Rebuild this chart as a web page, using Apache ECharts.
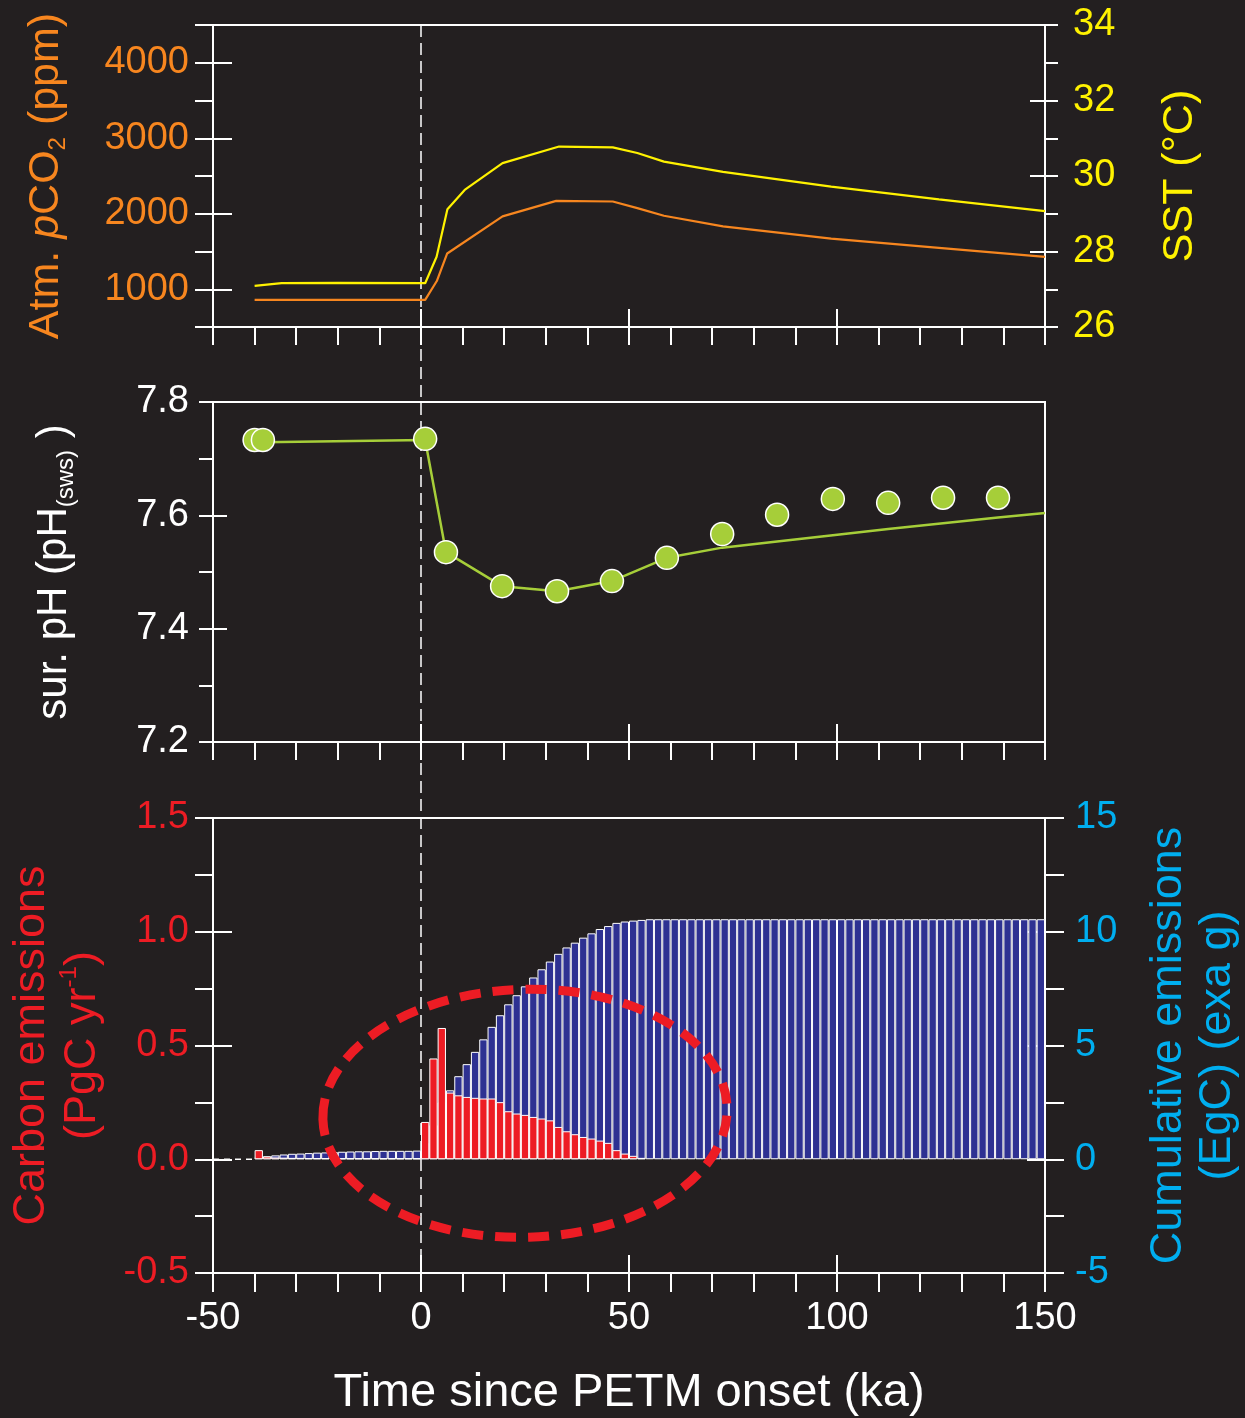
<!DOCTYPE html>
<html>
<head>
<meta charset="utf-8">
<script src="https://cdn.jsdelivr.net/npm/echarts@6/dist/echarts.min.js"></script>
<style>
html, body { margin: 0; padding: 0; background: #231f20; }
#main { width: 1245px; height: 1418px; }
</style>
</head>
<body>
<div id="main"></div>
<script>
// ---- data ----
// top panel: model curves, [time (ka), value]
var co2Curve = [[-40, 859], [1, 859], [3.8, 1109], [6.3, 1474], [19.6, 1965], [32.5, 2171], [46.1, 2162],
    [52, 2075], [58.4, 1974], [72.6, 1833], [98.6, 1671], [124.5, 1549], [150, 1430]];
var sstCurve = [[-40, 27.09], [-33.5, 27.16], [-20, 27.17], [1, 27.16], [3.75, 27.86], [6.35, 29.12],
    [10.5, 29.63], [19.6, 30.34], [33.2, 30.78], [46.1, 30.76], [52, 30.61], [58.4, 30.38], [72.6, 30.11],
    [98.6, 29.72], [124.5, 29.38], [150, 29.07]];

// middle panel: surface pH
var phTime = [-40, -38, 1, 6, 19.5, 32.7, 45.9, 59.1, 72.4, 85.6, 99, 112.3, 125.5, 138.7];
var phDots = [7.733, 7.733, 7.735, 7.535, 7.475, 7.466, 7.484, 7.525, 7.567, 7.601, 7.629, 7.622, 7.631, 7.631];
var phModel = [[-38, 7.729], [1, 7.733], [6, 7.535], [19.5, 7.475], [32.7, 7.466], [45.9, 7.484], [59.1, 7.525],
    [72.4, 7.543], [85.6, 7.554], [99, 7.565], [112.3, 7.576], [125.5, 7.586], [138.7, 7.596], [150, 7.604]];

// bottom panel: 2 ka bins, first bin starts at -40 ka
var firstBin = -40;
var emisRate = [0.040, 0.012, 0.008, 0.007, 0.006, 0.006, 0.005, 0.005, 0.005, 0.005,
    0.004, 0.004, 0.004, 0.004, 0.004, 0.004, 0.004, 0.004, 0.004, 0.004,
    0.164, 0.443, 0.577, 0.293, 0.281, 0.274, 0.270, 0.267, 0.267, 0.251,
    0.211, 0.201, 0.195, 0.186, 0.179, 0.171, 0.142, 0.123, 0.110, 0.098,
    0.091, 0.082, 0.072, 0.040, 0.025, 0.015, 0.006];
var cumEmis = [0.09, 0.13, 0.17, 0.21, 0.24, 0.25, 0.27, 0.29, 0.30, 0.32,
    0.33, 0.34, 0.35, 0.35, 0.36, 0.37, 0.37, 0.37, 0.37, 0.38,
    0.70, 1.50, 2.50, 3.03, 3.65, 4.18, 4.72, 5.27, 5.82, 6.33,
    6.81, 7.21, 7.60, 7.99, 8.35, 8.69, 9.03, 9.31, 9.52, 9.74,
    9.93, 10.12, 10.25, 10.39, 10.45, 10.49, 10.52, 10.55, 10.55, 10.55,
    10.55, 10.55, 10.55, 10.55, 10.55, 10.55, 10.55, 10.55, 10.55, 10.55,
    10.55, 10.55, 10.55, 10.55, 10.55, 10.55, 10.55, 10.55, 10.55, 10.55,
    10.55, 10.55, 10.55, 10.55, 10.55, 10.55, 10.55, 10.55, 10.55, 10.55,
    10.55, 10.55, 10.55, 10.55, 10.55, 10.55, 10.55, 10.55, 10.55, 10.55,
    10.55, 10.55, 10.55, 10.55, 10.55];
var zeroGuide = [[-50, 0], [-40, 0]];

// ticks and labels
var timeTicks = [-50, -40, -30, -20, -10, 0, 10, 20, 30, 40, 50, 60, 70, 80, 90, 100, 110, 120, 130, 140, 150];
var timeLabels = [-50, 0, 50, 100, 150];
var co2Ticks = [500, 1000, 1500, 2000, 2500, 3000, 3500, 4000, 4500];
var co2Labels = [1000, 2000, 3000, 4000];
var sstTicks = [26, 27, 28, 29, 30, 31, 32, 33, 34];
var sstLabels = [26, 28, 30, 32, 34];
var phTicks = [7.2, 7.3, 7.4, 7.5, 7.6, 7.7, 7.8];
var phLabels = [7.2, 7.4, 7.6, 7.8];
var rateTicks = [-0.5, -0.25, 0, 0.25, 0.5, 0.75, 1, 1.25, 1.5];
var rateLabels = [-0.5, 0, 0.5, 1, 1.5];
var cumTicks = [-5, -2.5, 0, 2.5, 5, 7.5, 10, 12.5, 15];
var cumLabels = [-5, 0, 5, 10, 15];

// annotation oval, in time / emission-rate units
var ovalCentre = [25, 0.202];
var ovalHalf = [48.6, 0.545];

var white = '#ffffff';
var orange = '#f7861f';
var yellow = '#fff200';
var green = '#a6ce39';
var red = '#ed1c24';
var navy = '#2e3192';
var cyan = '#00aeef';
var font = '"Liberation Sans", Arial, Helvetica, sans-serif';

// 2 ka bins over the whole -50..150 axis, bars start at firstBin
var bins = [];
for (var b = -50; b < 150; b += 2) bins.push(String(b));
var pad = (firstBin + 50) / 2;
var rateBars = [], cumBars = [];
for (var i = 0; i < pad; i++) { rateBars.push(null); cumBars.push(null); }
rateBars = rateBars.concat(emisRate);
cumBars = cumBars.concat(cumEmis);

function valueAxis(grid, min, max, position, ticks, len, inside, labels, labelColor, margin, fmt) {
    var vertical = position === 'left' || position === 'right';
    return {
        type: 'value', gridIndex: grid, min: min, max: max, position: position,
        axisLine: { show: !inside, onZero: false, lineStyle: { color: white, width: 2 } },
        axisTick: { show: true, inside: inside, length: len, customValues: ticks,
            lineStyle: { color: white, width: 2 } },
        axisLabel: labels ? { show: true, customValues: labels, color: labelColor, fontSize: 38,
            fontFamily: font, margin: margin, formatter: fmt,
            padding: vertical ? [5, 0, 0, 0] : 0 } : { show: false },
        splitLine: { show: false }
    };
}
function fixed1(v) { return v.toFixed(1); }
function plain(v) { return String(v); }

var gridBase = { left: 213, width: 832, show: true, borderColor: white, borderWidth: 2,
    backgroundColor: 'transparent', containLabel: false, outerBoundsMode: 'none' };

var xAxes = [
    valueAxis(0, -50, 150, 'bottom', timeTicks, 18, false),
    valueAxis(0, -50, 150, 'bottom', timeLabels, 18, true),
    valueAxis(1, -50, 150, 'bottom', timeTicks, 18, false),
    valueAxis(1, -50, 150, 'bottom', timeLabels, 18, true),
    valueAxis(2, -50, 150, 'bottom', timeTicks, 19, false, timeLabels, white, 27, plain),
    valueAxis(2, -50, 150, 'bottom', timeLabels, 18, true),
    { type: 'category', gridIndex: 2, data: bins, show: false, boundaryGap: true }
];
xAxes[4].name = 'Time since PETM onset (ka)';
xAxes[4].nameLocation = 'middle';
xAxes[4].nameGap = 97;
xAxes[4].nameTextStyle = { color: white, fontSize: 47, fontFamily: font };

var yAxes = [
    valueAxis(0, 500, 4500, 'left', co2Ticks, 18, false, co2Labels, orange, 24, plain),
    valueAxis(0, 500, 4500, 'left', co2Labels, 19, true),
    valueAxis(0, 26, 34, 'right', sstTicks, 13, false, sstLabels, yellow, 28, plain),
    valueAxis(0, 26, 34, 'right', sstLabels, 15, true),
    valueAxis(1, 7.2, 7.8, 'left', phTicks, 14, false, phLabels, white, 24, fixed1),
    valueAxis(1, 7.2, 7.8, 'left', phLabels, 14, true),
    valueAxis(2, -0.5, 1.5, 'left', rateTicks, 18, false, rateLabels, red, 24, fixed1),
    valueAxis(2, -0.5, 1.5, 'left', rateLabels, 19, true),
    valueAxis(2, -5, 15, 'right', cumTicks, 19, false, cumLabels, cyan, 30, plain),
    valueAxis(2, -5, 15, 'right', cumLabels, 18, true)
];

function nameStyle(color, rich) {
    return { color: color, fontSize: 43, fontFamily: font, rich: rich };
}
function axisName(ax, name, gap, style) {
    ax.name = name;
    ax.nameLocation = 'middle';
    ax.nameRotate = 90;
    ax.nameGap = gap;
    ax.nameTextStyle = style;
}
axisName(yAxes[0], '{a|Atm. }{i|p}{a|CO}{s|2}{a| (ppm)}', 143, nameStyle(orange, {
    a: { color: orange, fontSize: 43, fontFamily: font, lineHeight: 48 },
    i: { color: orange, fontSize: 43, fontFamily: font, fontStyle: 'italic', lineHeight: 48 },
    s: { color: orange, fontSize: 24, fontFamily: font, verticalAlign: 'bottom', lineHeight: 30 }
}));
axisName(yAxes[2], 'SST (°C)', 114, nameStyle(yellow));
axisName(yAxes[4], '{a|sur. pH (pH}{s|(sws)}{a| )}', 135, nameStyle(white, {
    a: { color: white, fontSize: 42, fontFamily: font, lineHeight: 48 },
    s: { color: white, fontSize: 24, fontFamily: font, verticalAlign: 'bottom', lineHeight: 30 }
}));
axisName(yAxes[6], '{a|Carbon emissions}\n{a|(PgC yr}{t|-1}{a|)}', 105, nameStyle(red, {
    a: { color: red, fontSize: 45, fontFamily: font, lineHeight: 51 },
    t: { color: red, fontSize: 24, fontFamily: font, verticalAlign: 'top', lineHeight: 30 }
}));
axisName(yAxes[8], '{a|Cumulative emissions}\n{a|(EgC) (exa g)}', 99, nameStyle(cyan, {
    a: { color: cyan, fontSize: 45, fontFamily: font, lineHeight: 49 }
}));

var option = {
    backgroundColor: '#231f20',
    animation: false,
    grid: [
        Object.assign({ top: 25, height: 302 }, gridBase),
        Object.assign({ top: 402, height: 340 }, gridBase),
        Object.assign({ top: 818, height: 455 }, gridBase)
    ],
    xAxis: xAxes,
    yAxis: yAxes,
    series: [
        {
            name: 'pCO2', type: 'line', xAxisIndex: 0, yAxisIndex: 0, data: co2Curve,
            showSymbol: false, lineStyle: { color: orange, width: 2.2 }, z: 3
        },
        {
            name: 'SST', type: 'line', xAxisIndex: 0, yAxisIndex: 2, data: sstCurve,
            showSymbol: false, lineStyle: { color: yellow, width: 2.2 }, z: 3
        },
        {
            name: 'pH model', type: 'line', xAxisIndex: 2, yAxisIndex: 4, data: phModel,
            showSymbol: false, lineStyle: { color: green, width: 2.5 }, z: 3
        },
        {
            name: 'pH', type: 'scatter', xAxisIndex: 2, yAxisIndex: 4,
            data: phTime.map(function (t, k) { return [t, phDots[k]]; }),
            symbolSize: 23, itemStyle: { color: green, borderColor: white, borderWidth: 1.5, opacity: 1 }, z: 4
        },
        {
            name: 'cumulative', type: 'bar', xAxisIndex: 6, yAxisIndex: 8, data: cumBars,
            barCategoryGap: '0%', barGap: '-100%',
            itemStyle: { color: navy, borderColor: white, borderWidth: 1 }, z: 2
        },
        {
            name: 'rate', type: 'bar', xAxisIndex: 6, yAxisIndex: 6, data: rateBars,
            barCategoryGap: '0%', barGap: '-100%',
            itemStyle: { color: red, borderColor: white, borderWidth: 1 }, z: 3
        },
        {
            name: 'zero', type: 'line', xAxisIndex: 4, yAxisIndex: 6, data: zeroGuide,
            showSymbol: false, lineStyle: { color: white, width: 1.5, type: [6, 5] }, z: 3
        }
    ]
};

var chart = echarts.init(document.getElementById('main'));
chart.setOption(option);

// vertical onset line through all three panels, and the oval
var x0 = chart.convertToPixel({ xAxisIndex: 0 }, 0);
var yTop = chart.convertToPixel({ yAxisIndex: 2 }, 34);
var yBottom = chart.convertToPixel({ yAxisIndex: 6 }, -0.5);
var ox = chart.convertToPixel({ xAxisIndex: 4 }, ovalCentre[0]);
var oy = chart.convertToPixel({ yAxisIndex: 6 }, ovalCentre[1]);
var orx = chart.convertToPixel({ xAxisIndex: 4 }, ovalCentre[0] + ovalHalf[0]) - ox;
var ory = chart.convertToPixel({ yAxisIndex: 6 }, ovalCentre[1] - ovalHalf[1]) - oy;

chart.setOption({
    graphic: [
        {
            type: 'line', z: 1, silent: true,
            shape: { x1: x0, y1: yTop, x2: x0, y2: yBottom },
            style: { stroke: white, lineWidth: 1.5, lineDash: [12, 6] }
        },
        {
            type: 'ellipse', z: 100, silent: true,
            x: ox, y: oy, rotation: 0.03,
            shape: { cx: 0, cy: 0, rx: orx, ry: ory },
            style: { fill: 'none', stroke: red, lineWidth: 9, lineDash: [21, 12] }
        }
    ]
});
</script>
</body>
</html>
